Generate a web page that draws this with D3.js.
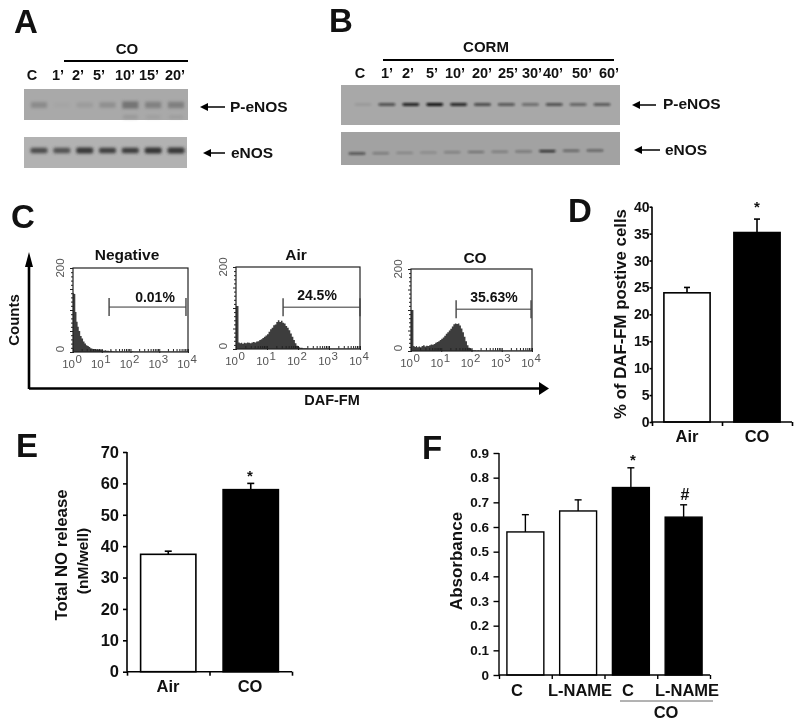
<!DOCTYPE html>
<html><head><meta charset="utf-8">
<script src="https://cdn.jsdelivr.net/npm/d3@7"></script>
<style>
html,body{margin:0;padding:0;background:#fff}
svg{display:block;filter:blur(0.3px)}
text{font-family:"Liberation Sans",Arial,sans-serif;font-weight:bold;fill:#111}
</style></head><body>
<svg id="chart" width="800" height="724"></svg>
<script>
// ---- data ----
const lanesA = ["C","1’","2’","5’","10’","15’","20’"];
const pENOSa = [0.45,0.06,0.2,0.38,0.8,0.6,0.62];
const pENOSaLower = [0,0,0,0,0.3,0.18,0.2];
const eNOSa = [0.8,0.75,0.95,0.9,0.92,0.98,0.95];
const lanesB = ["C","1’","2’","5’","10’","20’","25’","30’","40’","50’","60’"];
const pENOSb = [0.1,0.68,0.88,1,0.85,0.72,0.62,0.45,0.68,0.52,0.6];
const eNOSb = [0.72,0.32,0.25,0.22,0.28,0.36,0.3,0.36,0.85,0.5,0.55];
const histBins = [0,.04,.08,.12,.16,.2,.25,.3,.35,.4,.45,.5,.55,.6,.65,.7,.75,.8,.85,.9,.95,1,1.05,1.1,1.15,1.2,1.25,1.3,1.35,1.4,1.45,1.5,1.55,1.6,1.65,1.7,1.75,1.8,1.85,1.9,1.95,2,2.05,2.1,2.15,2.2,2.25,2.3,2.35,2.4,3,4];
const histNegative = [140,138,95,72,60,50, 38,32,25,20,16,14,12,9,8,7, 7,6,6,5,4,5,3,4,3,3, 2,3,2,2,1,2,1,1,2,1, 1,1,2,1,1,1,2,1,1,1, 1,1,1,1, 1,1];
const histAir = [105,105,16,14,15,13, 15,14,16,15,14,16,17,16,18,19, 22,24,27,30,33,36,42,48,52,58, 60,66,70,66,69,64,62,56,52,46, 38,30,22,14,8,5,3,3,2,2, 2,1,1,1, 1,1];
const histCO = [100,100,12,10,12,9, 11,9,12,14,11,13,12,14,16,15, 17,20,22,24,27,30,33,37,42,46, 50,54,60,65,67,66,67,62,55,46, 35,24,14,8,5,3,2,2,1,2, 1,1,1,1, 1,1];
const flowTitles = ["Negative","Air","CO"];
const flowPercents = ["0.01%","24.5%","35.63%"];
const gateLow = [18,33,31];
const gateHigh = [8500,10000,9300];
const gateCount = [107,102,102];
const flowDecades = [1,10,100,1000,10000];
const catsAirCO = ["Air","CO"];
const dafValues = [24,35.2];
const dafErrors = [1,2.5];
const dafTicks = [0,5,10,15,20,25,30,35,40];
const noValues = [37.4,58];
const noErrors = [1,2];
const noTicks = [0,10,20,30,40,50,60,70];
const absCats = ["C","L-NAME","C ","L-NAME "];
const absValues = [0.58,0.665,0.76,0.64];
const absErrors = [0.07,0.045,0.08,0.05];
const absTicks = [0,0.1,0.2,0.3,0.4,0.5,0.6,0.7,0.8,0.9];

// ---- helpers ----
const svg = d3.select("#chart");
const defs = svg.append("defs");
[["blurA",1.5],["blurB",0.8]].forEach(([id,s])=>{
  defs.append("filter").attr("id",id).attr("x","-30%").attr("y","-150%").attr("width","160%").attr("height","400%")
    .append("feGaussianBlur").attr("stdDeviation",s);
});
function label(t,x,y,size,anchor="middle",rot=null,fill=null){
  const e = svg.append("text").text(t).attr("font-size",size).attr("text-anchor",anchor);
  if(rot!==null) e.attr("transform",`translate(${x},${y}) rotate(${rot})`);
  else e.attr("x",x).attr("y",y);
  if(fill) e.style("fill",fill);
  return e;
}
function line(x1,y1,x2,y2,w=2,c="#000"){
  return svg.append("line").attr("x1",x1).attr("y1",y1).attr("x2",x2).attr("y2",y2).attr("stroke",c).attr("stroke-width",w);
}
function arrowLeft(x1,x2,y){
  line(x1+5,y,x2,y,1.5);
  svg.append("path").attr("d",`M${x1},${y}L${x1+8},${y-4}L${x1+8},${y+4}Z`).attr("fill","#000");
}
function blot(x,y,w,h,bg,lanes,range,values,by,bw,bh,filter,dark,slope=0){
  const g = svg.append("g");
  g.append("rect").attr("x",x).attr("y",y).attr("width",w).attr("height",h).attr("fill",bg);
  const sx = d3.scalePoint().domain(lanes).range(range);
  const n = lanes.length;
  g.selectAll("rect.band").data(values).join("rect").attr("class","band")
    .attr("x",(d,i)=>sx(lanes[i])-bw/2)
    .attr("y",(d,i)=>by+slope*i/(n-1)-bh/2-(bh/2)*d*0.3)
    .attr("width",bw).attr("height",(d)=>bh*(1+0.3*d)).attr("rx",2)
    .attr("fill",dark).attr("opacity",d=>d).attr("filter",`url(#${filter})`);
}
label("A",14,33,33,"start");
label("B",329,32,33,"start");
label("C",11,228,33,"start");
label("D",568,222,33,"start");
label("E",16,457,33,"start");
label("F",422,459,33,"start");

// ---- panel A ----
label("CO",127,54,15);
line(64,61,188,61,2);
const labXA=[32,58,78,99,125,149,175];
lanesA.forEach((t,i)=>label(t,labXA[i],80,14.5));
blot(24,89,164,31,"#a9a9a9",lanesA,[39,176],pENOSaLower,117,15,4,"blurA","#777");
blot(24,137,163,31,"#b2b2b2",lanesA,[39,176],eNOSa,150.5,17,4.5,"blurA","#333");
{
  const sx=d3.scalePoint().domain(lanesA).range([39,176]);
  svg.selectAll("rect.p").data(pENOSa).join("rect").attr("class","p")
    .attr("x",(d,i)=>sx(lanesA[i])-8).attr("y",d=>105-2-2*d).attr("width",16).attr("height",d=>4+4*d)
    .attr("fill","#666").attr("opacity",d=>d).attr("filter","url(#blurA)");
}
label("P-eNOS",230,112,15.5,"start");
arrowLeft(200,225,107);
label("eNOS",231,158,15.5,"start");
arrowLeft(203,225,153);

// ---- panel B ----
label("CORM",486,52,15);
line(383,60,614,60,2);
const labXB=[360,387,408,432,455,482,508,532,553,582,609];
lanesB.forEach((t,i)=>label(t,labXB[i],78,14.5));
blot(341,85,279,40,"#a8a8a8",lanesB,[363,602],pENOSb,104.5,17,2.2,"blurB","#111");
blot(341,132,279,33,"#a2a2a2",lanesB,[357,595],eNOSb,153.5,17,1.8,"blurB","#111",-3);
label("P-eNOS",663,109,15.5,"start");
arrowLeft(632,656,105);
label("eNOS",665,155,15.5,"start");
arrowLeft(634,660,150);

// ---- panel C ----
const flowBoxes=[{x0:73,x1:188,y0:268,y1:352},{x0:236,x1:360,y0:267,y1:349},{x0:411,x1:532,y0:269,y1:351}];
const titleXY=[[127,260],[296,260],[475,263]];
const pctXY=[[155,302],[317,300],[494,302]];
const hists=[histNegative,histAir,histCO];
flowBoxes.forEach((b,k)=>{
  const x=d3.scaleLog().domain([1,10000]).range([b.x0,b.x1]);
  const y=d3.scaleLinear().domain([0,200]).range([b.y1,b.y0]);
  const g=svg.append("g");
  const area=d3.area().x((d,i)=>x(Math.pow(10,histBins[i]))).y0(y(0)).y1(d=>y(d)).curve(d3.curveStepAfter);
  g.append("path").datum(hists[k]).attr("d",area).attr("fill","#3d3d3d");
  g.append("rect").attr("x",b.x0).attr("y",b.y0).attr("width",b.x1-b.x0).attr("height",b.y1-b.y0)
    .attr("fill","none").attr("stroke","#222").attr("stroke-width",1.2);
  const ax=g.append("g").attr("transform",`translate(0,${b.y1})`)
    .call(d3.axisBottom(x).tickFormat("").tickSize(2));
  ax.select(".domain").remove();
  ax.selectAll("line").attr("stroke","#222")
    .attr("y1",-3).attr("y2",d=>flowDecades.includes(d)?1:-0.5);
  const ay=g.append("g").attr("transform",`translate(${b.x0},0)`)
    .call(d3.axisLeft(y).tickValues(d3.range(0,201,10)).tickFormat("").tickSize(3));
  ay.select(".domain").remove();
  ay.selectAll("line").attr("stroke","#222").attr("x2",d=>d%50===0?-3:-2);
  flowDecades.forEach((d,i)=>{
    const t=svg.append("text").attr("x",x(d)-1).attr("y",b.y1+16).attr("text-anchor","middle")
      .attr("font-size",11.5).style("font-weight","normal").style("fill","#555");
    t.append("tspan").text("10");
    t.append("tspan").text(i).attr("dy",-5).attr("dx",0.5).attr("font-size",11.5);
  });
  label("200",b.x0-9,b.y0,11.5,"middle",-90,"#555").style("font-weight","normal");
  label("0",b.x0-9,y(0)-3,11.5,"middle",-90,"#555").style("font-weight","normal");
  label(flowTitles[k],titleXY[k][0],titleXY[k][1],15.5);
  label(flowPercents[k],pctXY[k][0],pctXY[k][1],14);
  const gy=y(gateCount[k]), gl=x(gateLow[k]), gh=x(gateHigh[k]);
  line(gl,gy,gh,gy,1,"#333");
  line(gl,gy-9,gl,gy+9,1.4,"#444");
  line(gh,gy-9,gh,gy+9,1.4,"#444");
});
line(29,389,29,262,2.6);
svg.append("path").attr("d","M29,252L25,267L33,267Z").attr("fill","#000");
line(29,388.5,540,388.5,2.6);
svg.append("path").attr("d","M549,388.5L539,382L539,395Z").attr("fill","#000");
label("Counts",19,320,15,"middle",-90);
label("DAF-FM",332,405,14.5);

// ---- bar panels ----
function barPanel(o){
  const y=d3.scaleLinear().domain(o.domain).range([o.y0,o.y1]);
  const band=d3.scaleBand().domain(o.cats).range([o.x0,o.x1]).paddingInner(o.pad).paddingOuter(o.pad/2);
  const n=o.cats.length;
  const xt=d3.scaleLinear().domain([0,n]).range([o.x0,o.x1]);
  const g=svg.append("g");
  g.selectAll("line.e").data(o.values).join("line").attr("class","e")
    .attr("x1",(d,i)=>band(o.cats[i])+band.bandwidth()/2).attr("x2",(d,i)=>band(o.cats[i])+band.bandwidth()/2)
    .attr("y1",d=>y(d)).attr("y2",(d,i)=>y(d+o.errors[i])).attr("stroke","#000").attr("stroke-width",o.sw);
  g.selectAll("line.c").data(o.values).join("line").attr("class","c")
    .attr("x1",(d,i)=>band(o.cats[i])+band.bandwidth()/2-o.cap).attr("x2",(d,i)=>band(o.cats[i])+band.bandwidth()/2+o.cap)
    .attr("y1",(d,i)=>y(d+o.errors[i])).attr("y2",(d,i)=>y(d+o.errors[i])).attr("stroke","#000").attr("stroke-width",o.sw);
  g.selectAll("rect").data(o.values).join("rect")
    .attr("x",(d,i)=>band(o.cats[i])).attr("width",band.bandwidth())
    .attr("y",d=>y(d)).attr("height",d=>y(0)-y(d))
    .attr("fill",(d,i)=>o.fills[i]).attr("stroke","#000").attr("stroke-width",o.sw);
  const ay=g.append("g").attr("transform",`translate(${o.x0},0)`)
    .call(d3.axisLeft(y).tickValues(o.ticks).tickFormat(o.fmt).tickSize(o.tick).tickPadding(o.tpad));
  ay.select(".domain").attr("stroke-width",o.sw).attr("d",`M0,${o.y0}V${o.y1}`);
  ay.selectAll("line").attr("stroke-width",o.sw);
  ay.selectAll("text").attr("font-size",o.tickFont).style("font-family",'"Liberation Sans"').style("fill","#111");
  const ax=g.append("g").attr("transform",`translate(0,${o.y0})`)
    .call(d3.axisBottom(xt).tickValues(d3.range(n+1)).tickFormat("").tickSize(o.xtick));
  ax.select(".domain").attr("stroke-width",o.sw).attr("d",`M${o.x0},0H${o.x1}`);
  ax.selectAll("line").attr("stroke-width",o.sw);
}
barPanel({cats:catsAirCO,values:dafValues,errors:dafErrors,domain:[0,40],y0:422,y1:206.7,x0:652,x1:792,pad:.34,
  fills:["#fff","#000"],ticks:dafTicks,fmt:d3.format("d"),tick:2.5,xtick:4,tpad:0,tickFont:14,sw:1.6,cap:3,errDx:0});
label("% of DAF-FM postive cells",626,314,16.8,"middle",-90);
label("Air",687,442,16.5);
label("CO",757,442,16.5);
label("*",757,212,15);

barPanel({cats:catsAirCO,values:noValues,errors:noErrors,domain:[0,70],y0:671.7,y1:452,x0:127,x1:292,pad:.33,
  fills:["#fff","#000"],ticks:noTicks,fmt:d3.format("d"),tick:4,xtick:4,tpad:4,tickFont:16.5,sw:1.6,cap:3.5,errDx:0});
label("Total NO release",67,555,16.8,"middle",-90);
label("(nM/well)",88,561,15.5,"middle",-90);
label("Air",168,692,16.5);
label("CO",250,692,16.5);
label("*",250,481,15);

barPanel({cats:absCats,values:absValues,errors:absErrors,domain:[0,0.9],y0:675,y1:453,x0:499,x1:710,pad:.3,
  fills:["#fff","#fff","#000","#000"],ticks:absTicks,fmt:d=>d===0?"0":d3.format(".1f")(d),tick:5.5,xtick:4,tpad:4.5,tickFont:13.5,sw:1.4,cap:3.5,errDx:0});
label("Absorbance",462,561,17,"middle",-90);
const labXF=[517,580,628,687];
absCats.forEach((c,i)=>label(c.trim(),labXF[i],696,16.5));
line(620,701,713,701,1,"#666");
label("CO",666,718,16.5);
label("*",633,465,15);
label("#",685,500,16);
</script>
</body></html>
